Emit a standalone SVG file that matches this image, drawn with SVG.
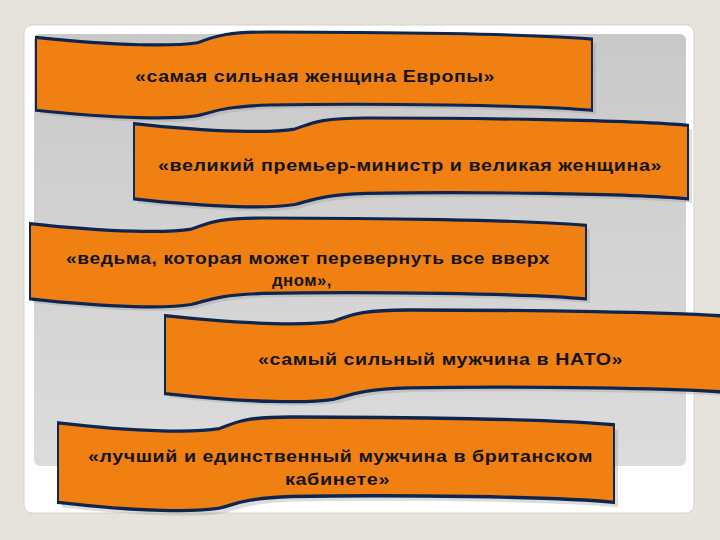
<svg xmlns="http://www.w3.org/2000/svg" width="720" height="540" viewBox="0 0 720 540">
<defs>
<linearGradient id="g" x1="0" y1="0" x2="0" y2="1"><stop offset="0" stop-color="#c9c9c9"/><stop offset="1" stop-color="#dcdcdc"/></linearGradient>
<path id="ban" d="M0,6 C150,16 250,16 290,12 C320,6 330,0 420,0 C600,0 900,2 1000,8 L1000,88 C900,82 600,80 420,82 C330,84 320,90 290,94 C250,98 150,98 0,88 Z"/>
</defs>
<style>
.b{fill:#f08012;stroke:#0e2550;stroke-width:3.5;vector-effect:non-scaling-stroke}
.s{fill:#9a9a9a;opacity:0.35}
.t{font-family:"Liberation Sans",Arial,sans-serif;font-weight:bold;font-size:17px;fill:#141414;letter-spacing:0.5px}
</style>
<rect width="720" height="540" fill="#e6e2dc"/>
<rect x="24" y="25" width="670" height="488" rx="8" fill="#ffffff" stroke="#d6d2cc"/>
<rect x="34" y="34" width="652" height="432" rx="6" fill="url(#g)"/>
<g id="n1"><use href="#ban" class="s" transform="translate(40,36) scale(0.556,0.89)"/><use href="#ban" class="b" transform="translate(36,32) scale(0.556,0.89)"/>
<text class="t" x="135" y="82" textLength="360" lengthAdjust="spacingAndGlyphs">«самая сильная женщина Европы»</text></g>
<g id="n2"><use href="#ban" class="s" transform="translate(138,122) scale(0.554,0.92)"/><use href="#ban" class="b" transform="translate(134,118) scale(0.554,0.92)"/>
<text class="t" x="158" y="171" textLength="504" lengthAdjust="spacingAndGlyphs">«великий премьер-министр и великая женщина»</text></g>
<g id="n3"><use href="#ban" class="s" transform="translate(34,222) scale(0.556,0.92)"/><use href="#ban" class="b" transform="translate(30,218) scale(0.556,0.92)"/>
<text class="t" x="66" y="264" textLength="484" lengthAdjust="spacingAndGlyphs">«ведьма, которая может перевернуть все вверх</text>
<text class="t" x="272" y="286" textLength="60" lengthAdjust="spacingAndGlyphs">дном»,</text></g>
<g id="n4"><use href="#ban" class="s" transform="translate(169,314) scale(0.58,0.95)"/><use href="#ban" class="b" transform="translate(165,310) scale(0.58,0.95)"/>
<text class="t" x="258" y="365" textLength="365" lengthAdjust="spacingAndGlyphs">«самый сильный мужчина в НАТО»</text></g>
<g id="n5"><use href="#ban" class="s" transform="translate(62,422) scale(0.556,0.97)"/><use href="#ban" class="b" transform="translate(58,417) scale(0.556,0.97)"/>
<text class="t" x="88" y="462" textLength="505" lengthAdjust="spacingAndGlyphs">«лучший и единственный мужчина в британском</text>
<text class="t" x="285" y="485" textLength="105" lengthAdjust="spacingAndGlyphs">кабинете»</text></g>
<g id="connectors"/>
</svg>
